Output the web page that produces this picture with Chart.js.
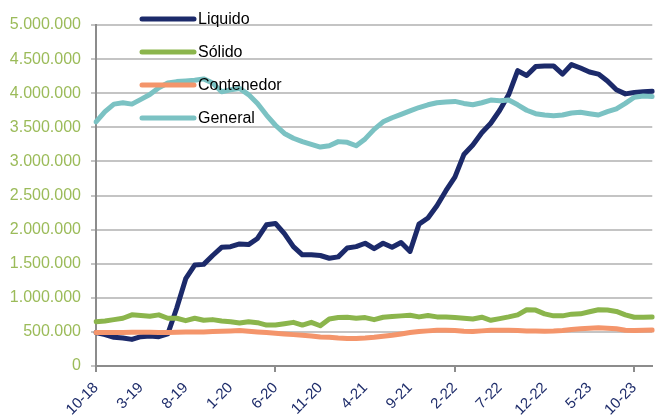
<!DOCTYPE html>
<html>
<head>
<meta charset="utf-8">
<script src="https://cdn.jsdelivr.net/npm/chart.js@4"></script>
<style>
  html, body { margin: 0; padding: 0; background: #fff; overflow: hidden; }
  #wrap { width: 672px; height: 416px; }
</style>
</head>
<body>
<div id="wrap"><canvas id="TrafficChart" width="672" height="416"></canvas></div>
<script>
// months, Oct 2018 to Dec 2023
const months = [
  '10-18','11-18','12-18',
  '1-19','2-19','3-19','4-19','5-19','6-19','7-19','8-19','9-19','10-19','11-19','12-19',
  '1-20','2-20','3-20','4-20','5-20','6-20','7-20','8-20','9-20','10-20','11-20','12-20',
  '1-21','2-21','3-21','4-21','5-21','6-21','7-21','8-21','9-21','10-21','11-21','12-21',
  '1-22','2-22','3-22','4-22','5-22','6-22','7-22','8-22','9-22','10-22','11-22','12-22',
  '1-23','2-23','3-23','4-23','5-23','6-23','7-23','8-23','9-23','10-23','11-23','12-23'
];

const liquido = [
  490000, 460000, 420000, 410000, 390000, 430000, 440000, 430000, 470000, 850000,
  1280000, 1480000, 1490000, 1620000, 1740000, 1750000, 1790000, 1780000, 1870000, 2070000,
  2090000, 1940000, 1750000, 1630000, 1630000, 1620000, 1580000, 1600000, 1730000, 1750000,
  1800000, 1720000, 1800000, 1740000, 1810000, 1680000, 2080000, 2170000, 2350000, 2570000,
  2770000, 3100000, 3240000, 3420000, 3560000, 3750000, 3980000, 4330000, 4260000, 4390000,
  4400000, 4400000, 4280000, 4420000, 4370000, 4310000, 4280000, 4180000, 4050000, 3990000,
  4010000, 4020000, 4030000
];

const solido = [
  650000, 660000, 680000, 700000, 750000, 740000, 730000, 750000, 700000, 700000,
  665000, 700000, 670000, 680000, 660000, 650000, 630000, 650000, 635000, 600000,
  600000, 620000, 640000, 600000, 640000, 590000, 690000, 710000, 715000, 700000,
  710000, 680000, 715000, 725000, 735000, 745000, 720000, 740000, 720000, 720000,
  710000, 700000, 690000, 715000, 670000, 695000, 720000, 750000, 825000, 820000,
  765000, 735000, 735000, 760000, 765000, 795000, 825000, 820000, 800000, 750000,
  715000, 715000, 720000
];

const contenedor = [
  490000, 490000, 490000, 492000, 495000, 495000, 495000, 493000, 490000, 495000,
  498000, 500000, 500000, 505000, 510000, 515000, 520000, 510000, 500000, 490000,
  480000, 470000, 460000, 450000, 440000, 425000, 420000, 410000, 405000, 405000,
  410000, 420000, 435000, 450000, 470000, 490000, 505000, 515000, 525000, 525000,
  520000, 510000, 505000, 515000, 525000, 525000, 525000, 520000, 515000, 512000,
  510000, 512000, 520000, 535000, 545000, 555000, 560000, 555000, 545000, 525000,
  520000, 525000, 528000
];

const general = [
  3580000, 3730000, 3840000, 3860000, 3840000, 3910000, 3980000, 4080000, 4150000, 4170000,
  4180000, 4190000, 4210000, 4150000, 4020000, 4050000, 4070000, 3980000, 3850000, 3680000,
  3530000, 3410000, 3340000, 3290000, 3250000, 3210000, 3230000, 3290000, 3280000, 3230000,
  3330000, 3470000, 3580000, 3640000, 3690000, 3740000, 3790000, 3830000, 3860000, 3870000,
  3880000, 3850000, 3830000, 3860000, 3900000, 3890000, 3900000, 3830000, 3750000, 3700000,
  3680000, 3670000, 3680000, 3710000, 3720000, 3700000, 3680000, 3730000, 3770000, 3850000,
  3940000, 3960000, 3950000
];

const yTicks = { min: 0, max: 5000000, step: 500000 };

const FONT = '"Liberation Sans", Arial, sans-serif';

function dotted(v) {
  return String(v).replace(/\B(?=(\d{3})+(?!\d))/g, '.');
}

// legend drawn inside the plot, top left, like the original
const insideLegend = {
  id: 'insideLegend',
  afterDatasetsDraw(chart) {
    const c = chart.ctx;
    c.save();
    c.font = '16px ' + FONT;
    c.textBaseline = 'middle';
    c.lineCap = 'round';
    chart.data.datasets.forEach((ds, i) => {
      let y = 19 + i * 33;
      c.strokeStyle = ds.borderColor;
      c.lineWidth = 5;
      c.beginPath();
      c.moveTo(142, y);
      c.lineTo(194, y);
      c.stroke();
      c.fillStyle = '#000';
      c.fillText(ds.label, 198, y + 1);
    });
    c.restore();
  }
};

function line(label, data, color, order) {
  return {
    label: label,
    data: data,
    borderColor: color,
    backgroundColor: color,
    borderWidth: 5,
    pointRadius: 0,
    tension: 0,
    borderJoinStyle: 'round',
    borderCapStyle: 'round',
    order: order
  };
}

const ctx = document.getElementById('TrafficChart').getContext('2d');
new Chart(ctx, {
  type: 'line',
  data: {
    labels: months,
    datasets: [
      line('Liquido', liquido, '#1C2A6A', 3),
      line('Sólido', solido, '#8BB54C', 2),
      line('Contenedor', contenedor, '#F4956B', 1),
      line('General', general, '#7BC2C3', 0)
    ]
  },
  options: {
    responsive: false,
    animation: false,
    layout: { padding: { top: 25, left: 0, right: 0, bottom: 0 } },
    plugins: {
      legend: { display: false },
      tooltip: { enabled: false }
    },
    scales: {
      x: {
        offset: false,
        afterFit: (s) => { s.height = 50; },
        grid: {
          drawOnChartArea: false,
          drawTicks: true,
          tickLength: 6,
          lineWidth: 2,
          color: (c) => (c.index % 20 === 0 ? '#8C8C8C' : 'rgba(0,0,0,0)')
        },
        border: { color: '#8C8C8C', width: 2 },
        ticks: {
          autoSkip: false,
          maxRotation: 45,
          minRotation: 45,
          padding: 7,
          color: '#1F2D6B',
          font: { size: 15, family: FONT },
          callback: function (val, i) { return i % 5 === 0 ? months[i] : ''; }
        }
      },
      y: {
        min: yTicks.min,
        max: yTicks.max,
        afterFit: (s) => { s.width = 96; },
        grid: {
          color: '#C4C4C4',
          lineWidth: 2,
          tickLength: 5
        },
        border: { color: '#8C8C8C', width: 2 },
        ticks: {
          stepSize: yTicks.step,
          padding: 10,
          color: '#9BBB59',
          font: { size: 16, family: FONT },
          callback: (v) => dotted(v)
        }
      }
    }
  },
  plugins: [insideLegend]
});
</script>
</body>
</html>
